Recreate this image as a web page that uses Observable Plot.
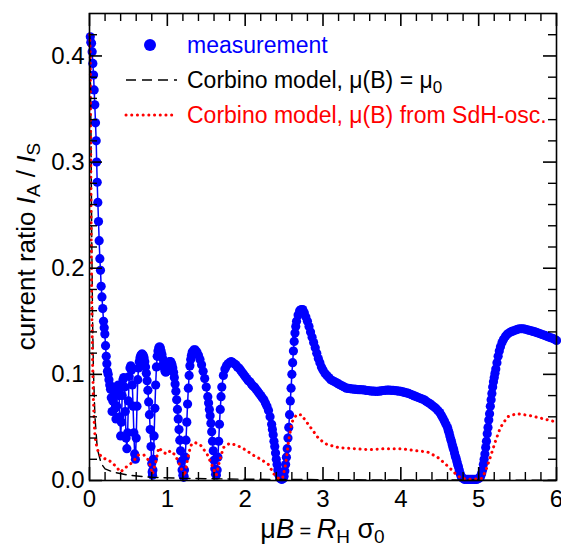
<!DOCTYPE html>
<html><head><meta charset="utf-8">
<script src="https://cdn.jsdelivr.net/npm/d3@7"></script>
<script src="https://cdn.jsdelivr.net/npm/@observablehq/plot@0.6"></script>
<style>
html,body{margin:0;padding:0;background:#fff;}
#chart svg{display:block;}
</style>
</head><body><div id="chart"></div>
<script>
// measurement (blue dots)
const measX = [0.010,0.017,0.026,0.034,0.043,0.052,0.060,0.068,0.077,0.086,0.092,0.099,0.107,0.116,0.124,0.133,0.141,0.150,0.160,0.170,0.180,0.189,0.197,0.206,0.215,0.223,0.231,
0.24,0.25,0.26,0.27,0.28,0.29,0.30,0.31,0.32,0.33,0.34,0.35,0.36,0.37,0.38,0.39,0.40,0.41,0.42,0.43,0.44,0.45,0.46,0.47,0.48,0.49,0.50,0.51,0.52,0.53,0.54,0.55,0.56,0.57,0.58,0.59,0.60,0.61,
0.62,0.63,0.64,0.65,0.66,0.67,0.68,0.69,0.70,0.71,0.72,0.73,0.74,0.75,0.76,0.77,0.78,0.79,0.80,0.805,0.81,0.815,0.82,0.83,0.84,0.85,0.86,0.87,0.88,0.89,0.90,0.91,0.92,0.93,0.94,0.95,0.96,0.97,0.98,0.99,
1.00,1.01,1.02,1.03,1.04,1.05,1.06,1.07,1.08,1.09,1.10,1.11,1.12,1.13,1.14,1.15,1.16,1.17,1.18,1.19,1.20,1.21,1.215,1.22,1.23,1.24,1.25,1.26,1.27,1.28,1.29,1.30,1.31,1.32,1.34,1.36,1.38,1.40,1.42,1.44,1.46,1.48,1.50,1.52,1.53,1.54,1.55,1.56,1.57,1.58,1.59,1.60,1.61,1.62,1.63,1.64,1.65,1.66,1.67,1.68,1.69,
1.70,1.72,1.74,1.76,1.78,1.80,1.82,1.84,1.86,1.88,1.90,1.92,1.94,1.96,1.98,2.00,2.02,2.04,2.06,2.08,2.10,2.12,2.14,2.16,2.18,2.20,2.22,2.24,2.26,2.28,2.30,2.32,2.34,2.35,2.36,2.37,2.38,2.39,2.40,2.41,2.42,2.43,2.44,2.45,2.47,2.49,2.50,2.51,2.52,2.53,2.54,2.55,2.56,2.57,2.58,2.59,2.60,2.61,2.62,2.63,2.64,2.65,2.66,2.68,2.70,2.72,2.74,2.76,2.78,2.80,2.82,2.84,2.86,2.88,2.90,2.92,2.94,2.96,2.98,
3.000,3.025,3.050,3.075,3.100,3.125,3.150,3.175,3.200,3.225,3.250,3.275,3.300,3.325,3.350,3.375,3.400,3.425,3.450,3.475,3.500,3.525,3.550,3.575,3.600,3.625,3.650,3.675,3.700,3.725,3.750,3.775,3.800,3.825,3.850,3.875,3.900,3.925,3.950,3.975,
4.000,4.025,4.050,4.075,4.100,4.125,4.150,4.175,4.200,4.225,4.250,4.275,4.300,4.325,4.350,4.375,4.400,4.425,4.450,4.475,4.50,4.52,4.54,4.56,4.58,4.60,4.61,4.62,4.63,4.64,4.65,4.66,4.67,4.68,4.69,4.70,4.71,4.72,4.73,4.74,4.75,4.76,4.77,4.78,4.80,4.82,4.85,4.875,4.90,4.925,4.95,4.975,
5.00,5.02,5.03,5.04,5.05,5.06,5.07,5.08,5.09,5.10,5.11,5.12,5.13,5.14,5.15,5.16,5.17,5.18,5.19,5.20,5.21,5.22,5.235,5.25,5.265,5.28,5.30,5.32,5.345,5.37,5.40,5.425,5.45,5.475,5.50,5.525,5.55,5.575,5.60,5.625,5.65,5.675,5.70,5.725,5.75,5.775,5.80,5.825,5.85,5.875,5.90,5.925,5.95,5.975,6.00];
const measY = [0.418,0.413,0.412,0.404,0.393,0.382,0.368,0.354,0.337,0.320,0.300,0.281,0.262,0.244,0.226,0.209,0.198,0.183,0.173,0.162,0.150,0.144,0.138,0.127,0.117,0.110,0.103,
0.100,0.095,0.090,0.086,0.078,0.065,0.075,0.088,0.083,0.068,0.058,0.070,0.085,0.090,0.080,0.060,0.042,0.055,0.080,0.095,0.097,0.088,0.065,0.040,0.030,0.045,0.075,0.098,0.106,0.108,0.104,0.090,0.070,0.045,0.025,0.020,0.040,0.070,
0.095,0.106,0.112,0.116,0.118,0.119,0.119,0.118,0.116,0.112,0.107,0.101,0.094,0.085,0.074,0.062,0.048,0.032,0.016,0.008,0.005,0.010,0.020,0.042,0.068,0.090,0.107,0.117,0.122,0.125,0.126,0.125,0.122,0.119,0.115,0.110,0.106,0.103,0.102,0.103,
0.105,0.108,0.110,0.112,0.112,0.111,0.109,0.106,0.102,0.097,0.091,0.084,0.076,0.067,0.058,0.048,0.038,0.028,0.018,0.010,0.005,0.003,0.004,0.010,0.022,0.038,0.055,0.072,0.087,0.099,0.108,0.114,0.118,0.121,0.123,0.123,0.121,0.118,0.114,0.109,0.103,0.096,0.088,0.079,0.073,0.067,0.061,0.054,0.046,0.037,0.028,0.019,0.011,0.006,0.005,0.010,0.022,0.037,0.053,0.067,0.079,
0.088,0.099,0.105,0.108,0.110,0.111,0.112,0.111,0.110,0.109,0.107,0.106,0.104,0.102,0.100,0.098,0.096,0.094,0.093,0.091,0.089,0.088,0.086,0.084,0.082,0.080,0.078,0.076,0.073,0.070,0.066,0.060,0.053,0.048,0.043,0.037,0.032,0.026,0.020,0.015,0.010,0.006,0.004,0.002,0.001,0.002,0.004,0.009,0.015,0.022,0.030,0.040,0.050,0.062,0.075,0.087,0.100,0.111,0.122,0.131,0.139,0.145,0.150,0.156,0.160,0.161,0.161,0.158,0.154,0.150,0.145,0.140,0.135,0.130,0.125,0.120,0.115,0.111,0.107,
0.104,0.101,0.099,0.097,0.095,0.094,0.093,0.092,0.091,0.090,0.089,0.088,0.087,0.0868,0.0865,0.0862,0.086,0.0858,0.0857,0.0856,0.0855,0.0853,0.085,0.0848,0.0845,0.0843,0.0842,0.084,0.084,0.0842,0.0845,0.0848,0.085,0.0851,0.0851,0.085,0.0849,0.0847,0.0845,0.0842,
0.084,0.0835,0.083,0.0825,0.082,0.0812,0.0805,0.0797,0.079,0.0782,0.0775,0.0767,0.076,0.0747,0.0735,0.0722,0.071,0.0695,0.068,0.066,0.064,0.0615,0.059,0.056,0.053,0.050,0.047,0.045,0.042,0.039,0.037,0.034,0.031,0.029,0.026,0.023,0.021,0.018,0.015,0.013,0.010,0.007,0.005,0.003,0.002,0.001,0.001,0.001,0.001,0.001,0.001,0.001,
0.002,0.003,0.005,0.007,0.010,0.015,0.020,0.025,0.031,0.037,0.044,0.050,0.057,0.063,0.070,0.076,0.082,0.088,0.093,0.097,0.101,0.105,0.111,0.117,0.122,0.126,0.130,0.133,0.136,0.138,0.1395,0.1405,0.141,0.1418,0.1425,0.143,0.143,0.143,0.1425,0.142,0.1415,0.141,0.1405,0.140,0.1393,0.1387,0.138,0.1373,0.1367,0.136,0.1353,0.1345,0.134,0.133,0.132];

// Corbino model, mu(B) from SdH oscillations (red dotted)
const sdhX = [0.003,0.01,0.02,0.03,0.04,0.05,0.06,0.07,0.09,0.12,0.18,0.25,0.33,0.40,0.46,0.55,0.63,0.70,0.76,0.81,0.85,0.89,0.94,0.99,1.04,1.10,1.17,1.22,1.26,1.30,1.35,1.43,1.51,1.57,1.63,1.67,1.72,1.80,1.90,2.0,2.1,2.2,2.3,2.37,2.43,2.48,2.52,2.56,2.60,2.66,2.72,2.80,2.88,2.95,3.05,3.2,3.4,3.6,3.8,4.0,4.2,4.34,4.47,4.55,4.64,4.72,4.78,4.9,5.04,5.09,5.15,5.22,5.28,5.37,5.49,5.67,5.84,6.0];
const sdhY = [0.42,0.40,0.25,0.16,0.11,0.075,0.055,0.042,0.033,0.025,0.021,0.019,0.014,0.008,0.012,0.017,0.024,0.024,0.019,0.006,0.017,0.031,0.027,0.025,0.028,0.024,0.013,0.004,0.020,0.033,0.036,0.033,0.025,0.015,0.005,0.018,0.031,0.035,0.033,0.029,0.024,0.020,0.015,0.006,0.002,0.002,0.015,0.038,0.055,0.062,0.062,0.054,0.046,0.039,0.034,0.031,0.030,0.029,0.030,0.030,0.028,0.027,0.022,0.017,0.011,0.005,0.002,0.001,0.002,0.009,0.022,0.038,0.050,0.060,0.063,0.061,0.058,0.055];

// Corbino model, mu(B) = mu0 (black dashed)
const constX = [0.003,0.01,0.02,0.03,0.04,0.05,0.07,0.10,0.15,0.20,0.30,0.50,0.80,1.2,2.0,3.0,4.0,5.0,6.0];
const constY = [0.42,0.40,0.32,0.22,0.15,0.105,0.06,0.03,0.016,0.011,0.008,0.005,0.003,0.002,0.0012,0.0008,0.0005,0.0004,0.0003];

const xMajor = [0,1,2,3,4,5,6];
const xMinor = [0.2,0.4,0.6,0.8,1.2,1.4,1.6,1.8,2.2,2.4,2.6,2.8,3.2,3.4,3.6,3.8,4.2,4.4,4.6,4.8,5.2,5.4,5.6,5.8];
const yMajor = [0,0.1,0.2,0.3,0.4];
const yMinor = [0.02,0.04,0.06,0.08,0.12,0.14,0.16,0.18,0.22,0.24,0.26,0.28,0.32,0.34,0.36,0.38,0.42];

const meas = measX.map((x, i) => ({x, y: measY[i]}));
const sdh = sdhX.map((x, i) => ({x, y: sdhY[i]}));
const cons = constX.map((x, i) => ({x, y: constY[i]}));

const FONT = "'Liberation Sans', Arial, Helvetica, sans-serif";
const FS = 24;
const BLUE = "#0000ff", RED = "#ff0000";
const W = 561, H = 548, ML = 89, MR = 5, MT = 13, MB = 68;
const PW = W - ML - MR, PH = H - MT - MB;
const MAJ = 13, MIN = 8;

const chart = Plot.plot({
  width: W, height: H,
  marginLeft: ML, marginRight: MR, marginTop: MT, marginBottom: MB,
  style: {fontFamily: FONT, fontSize: FS + "px", color: "black", background: "white"},
  x: {domain: [0, 6]},
  y: {domain: [0, 0.44]},
  marks: [
    Plot.line(meas, {x: "x", y: "y", stroke: BLUE, strokeWidth: 1.5}),
    Plot.dot(meas, {x: "x", y: "y", r: 4.6, fill: BLUE, stroke: "none"}),
    Plot.line(cons, {x: "x", y: "y", stroke: "black", strokeWidth: 1.4, strokeDasharray: "10,6"}),
    Plot.line(sdh, {x: "x", y: "y", stroke: RED, strokeWidth: 3, strokeDasharray: "0.1,5.6", strokeLinecap: "round"}),
    // inward ticks on all four sides
    Plot.tickX(xMinor, {x: d => d, insetTop: PH - MIN, stroke: "black", strokeWidth: 1.4}),
    Plot.tickX(xMinor, {x: d => d, insetBottom: PH - MIN, stroke: "black", strokeWidth: 1.4}),
    Plot.tickX(xMajor, {x: d => d, insetTop: PH - MAJ, stroke: "black", strokeWidth: 1.6}),
    Plot.tickX(xMajor, {x: d => d, insetBottom: PH - MAJ, stroke: "black", strokeWidth: 1.6}),
    Plot.tickY(yMinor, {y: d => d, insetRight: PW - MIN, stroke: "black", strokeWidth: 1.4}),
    Plot.tickY(yMinor, {y: d => d, insetLeft: PW - MIN, stroke: "black", strokeWidth: 1.4}),
    Plot.tickY(yMajor, {y: d => d, insetRight: PW - MAJ, stroke: "black", strokeWidth: 1.6}),
    Plot.tickY(yMajor, {y: d => d, insetLeft: PW - MAJ, stroke: "black", strokeWidth: 1.6}),
    Plot.axisX({ticks: xMajor, anchor: "bottom", tickSize: 0, tickPadding: 9, tickFormat: d => String(d), label: null}),
    Plot.axisY({ticks: yMajor, anchor: "left", tickSize: 0, tickPadding: 5, tickFormat: d => d.toFixed(1), label: null}),
    Plot.frame({stroke: "black", strokeWidth: 1.6})
  ]
});
document.getElementById("chart").appendChild(chart);

// axis titles and legend (rich text with italics/subscripts)
const svg = d3.select(chart);
const xs = chart.scale("x"), ys = chart.scale("y");
const cx = (xs.range[0] + xs.range[1]) / 2;
const cy = (ys.range[0] + ys.range[1]) / 2;

const xt = svg.append("text").attr("x", cx).attr("y", 538).attr("text-anchor", "middle")
  .attr("font-family", FONT).attr("font-size", 27).attr("fill", "black");
xt.append("tspan").text("\u03bc");
xt.append("tspan").attr("font-style", "italic").text("B");
xt.append("tspan").attr("font-size", 20).text(" = ");
xt.append("tspan").attr("font-style", "italic").text("R");
xt.append("tspan").attr("font-size", 19).attr("dy", 5).text("H");
xt.append("tspan").attr("dy", -5).text(" \u03c3");
xt.append("tspan").attr("font-size", 19).attr("dy", 5).text("0");

const yt = svg.append("text").attr("transform", `translate(35,${cy}) rotate(-90)`).attr("text-anchor", "middle")
  .attr("font-family", FONT).attr("font-size", 26).attr("fill", "black");
yt.append("tspan").text("current ratio ");
yt.append("tspan").attr("font-style", "italic").text("I");
yt.append("tspan").attr("font-size", 19).attr("dy", 5).text("A");
yt.append("tspan").attr("dy", -5).text(" / ");
yt.append("tspan").attr("font-style", "italic").text("I");
yt.append("tspan").attr("font-size", 19).attr("dy", 5).text("S");

// legend
const lg = svg.append("g").attr("font-family", FONT).attr("font-size", 23).attr("text-anchor", "start");
lg.append("circle").attr("cx", 150).attr("cy", 45).attr("r", 6).attr("fill", BLUE);
lg.append("text").attr("x", 187).attr("y", 53).attr("fill", BLUE).text("measurement");
lg.append("line").attr("x1", 126).attr("x2", 177).attr("y1", 80).attr("y2", 80)
  .attr("stroke", "black").attr("stroke-width", 1.4).attr("stroke-dasharray", "10,6");
const t2 = lg.append("text").attr("x", 187).attr("y", 88).attr("fill", "black");
t2.append("tspan").text("Corbino model, \u03bc(B) = \u03bc");
t2.append("tspan").attr("font-size", 17).attr("dy", 5).text("0");
lg.append("line").attr("x1", 126).attr("x2", 177).attr("y1", 115).attr("y2", 115)
  .attr("stroke", RED).attr("stroke-width", 3).attr("stroke-dasharray", "0.1,5.6").attr("stroke-linecap", "round");
lg.append("text").attr("x", 187).attr("y", 123).attr("fill", RED).text("Corbino model, \u03bc(B) from SdH-osc.");
</script>
</body></html>
